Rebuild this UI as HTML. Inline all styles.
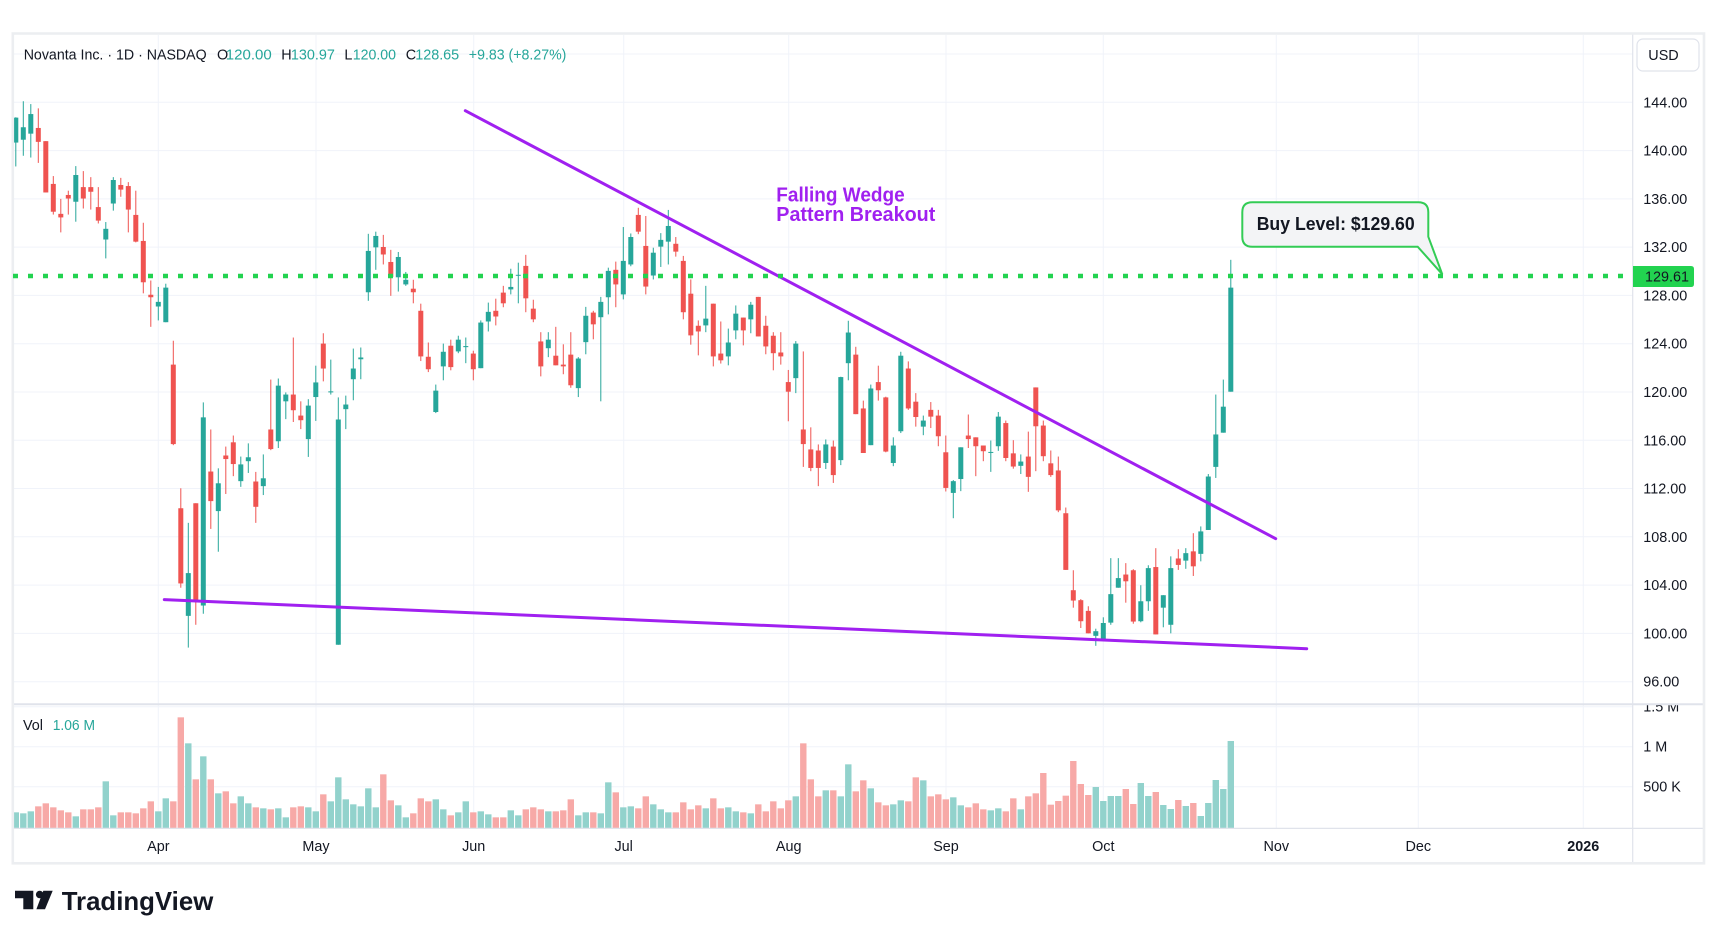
<!DOCTYPE html>
<html>
<head>
<meta charset="utf-8">
<style>
html,body{margin:0;padding:0;background:#ffffff;}
body{width:1717px;height:938px;overflow:hidden;}
svg{display:block;font-family:"Liberation Sans",Arial,sans-serif;}
.ax{font-size:14.4px;fill:#131722;}
.tx{font-size:14.4px;fill:#131722;}
.up{fill:#26a69a;}
</style>
</head>
<body>
<svg id="s" width="1717" height="938" viewBox="0 0 1717 938" xmlns="http://www.w3.org/2000/svg">
  <defs>
    <clipPath id="cp"><rect x="14" y="35" width="1618.7" height="669.3"/></clipPath>
    <clipPath id="cv"><rect x="14" y="705.3" width="1618.7" height="123"/></clipPath>
    <clipPath id="cva"><rect x="1633.7" y="705.3" width="68" height="123"/></clipPath>
  </defs>
  <rect x="0" y="0" width="1717" height="938" fill="#ffffff"/>

  <!-- grid -->
  <g stroke="#f0f3fa" stroke-width="1">
    <line x1="14" y1="54.0" x2="1632.7" y2="54.0"/>
    <line x1="14" y1="102.3" x2="1632.7" y2="102.3"/>
    <line x1="14" y1="150.6" x2="1632.7" y2="150.6"/>
    <line x1="14" y1="198.9" x2="1632.7" y2="198.9"/>
    <line x1="14" y1="247.1" x2="1632.7" y2="247.1"/>
    <line x1="14" y1="295.4" x2="1632.7" y2="295.4"/>
    <line x1="14" y1="343.7" x2="1632.7" y2="343.7"/>
    <line x1="14" y1="392.0" x2="1632.7" y2="392.0"/>
    <line x1="14" y1="440.3" x2="1632.7" y2="440.3"/>
    <line x1="14" y1="488.5" x2="1632.7" y2="488.5"/>
    <line x1="14" y1="536.8" x2="1632.7" y2="536.8"/>
    <line x1="14" y1="585.1" x2="1632.7" y2="585.1"/>
    <line x1="14" y1="633.4" x2="1632.7" y2="633.4"/>
    <line x1="14" y1="681.7" x2="1632.7" y2="681.7"/>
    <line x1="14" y1="706.7" x2="1632.7" y2="706.7"/>
    <line x1="14" y1="746.7" x2="1632.7" y2="746.7"/>
    <line x1="14" y1="786.7" x2="1632.7" y2="786.7"/>
    <line x1="158.3" y1="35" x2="158.3" y2="828"/>
    <line x1="316" y1="35" x2="316" y2="828"/>
    <line x1="473.7" y1="35" x2="473.7" y2="828"/>
    <line x1="623.7" y1="35" x2="623.7" y2="828"/>
    <line x1="788.7" y1="35" x2="788.7" y2="828"/>
    <line x1="946" y1="35" x2="946" y2="828"/>
    <line x1="1103.3" y1="35" x2="1103.3" y2="828"/>
    <line x1="1276.3" y1="35" x2="1276.3" y2="828"/>
    <line x1="1418.3" y1="35" x2="1418.3" y2="828"/>
    <line x1="1583.3" y1="35" x2="1583.3" y2="828"/>
  </g>

  <!-- series -->
  <g id="candles" clip-path="url(#cp)"></g>
  <g id="vols" clip-path="url(#cv)"></g>

  <!-- separators -->
  <line x1="13" y1="704.3" x2="1703" y2="704.3" stroke="#e0e3eb" stroke-width="2"/>
  <line x1="13" y1="828.4" x2="1703" y2="828.4" stroke="#e0e3eb" stroke-width="1.2"/>
  <line x1="1632.7" y1="34" x2="1632.7" y2="863" stroke="#e0e3eb" stroke-width="1.2"/>

  <!-- frame -->
  <rect x="12.8" y="33.5" width="1691.2" height="829.8" fill="none" stroke="#eceef1" stroke-width="2.6"/>

  <!-- wedge lines -->
  <g stroke="#a020f0" stroke-width="3" stroke-linecap="round" clip-path="url(#cp)">
    <line x1="465.3" y1="110.7" x2="1275.7" y2="538.7"/>
    <line x1="164.3" y1="599.6" x2="1306.7" y2="648.7"/>
  </g>

  <!-- wedge text -->
  <text x="776.3" y="201.4" font-size="20" font-weight="bold" fill="#a020f0" textLength="128.4" lengthAdjust="spacingAndGlyphs">Falling Wedge</text>
  <text x="776.3" y="221" font-size="20" font-weight="bold" fill="#a020f0" textLength="159" lengthAdjust="spacingAndGlyphs">Pattern Breakout</text>

  <!-- buy level dotted line -->
  <line x1="13" y1="276" x2="1632.7" y2="276" stroke="#22d350" stroke-width="4.6" stroke-dasharray="5 10"/>

  <!-- callout -->
  <path d="M1252.3,202.3 H1418.3 Q1428.3,202.3 1428.3,212.3 V236.7 L1442.3,274.3 L1417.7,246.7 H1252.3 Q1242.3,246.7 1242.3,236.7 V212.3 Q1242.3,202.3 1252.3,202.3 Z" fill="#f3f4f6" stroke="#33cc55" stroke-width="2"/>
  <text x="1256.7" y="230" font-size="18" font-weight="bold" fill="#131722" textLength="158" lengthAdjust="spacingAndGlyphs">Buy Level: $129.60</text>

  <!-- header -->
  <text class="tx" x="23.7" y="59.3" textLength="183" lengthAdjust="spacingAndGlyphs">Novanta Inc. · 1D · NASDAQ</text>
  <text class="tx" x="217" y="59.3">O</text>
  <text class="tx up" x="225.8" y="59.3" textLength="45.9" lengthAdjust="spacingAndGlyphs">120.00</text>
  <text class="tx" x="281.3" y="59.3">H</text>
  <text class="tx up" x="290.9" y="59.3" textLength="44" lengthAdjust="spacingAndGlyphs">130.97</text>
  <text class="tx" x="344.4" y="59.3">L</text>
  <text class="tx up" x="352.8" y="59.3" textLength="43.2" lengthAdjust="spacingAndGlyphs">120.00</text>
  <text class="tx" x="405.7" y="59.3">C</text>
  <text class="tx up" x="415.2" y="59.3" textLength="44" lengthAdjust="spacingAndGlyphs">128.65</text>
  <text class="tx up" x="468.8" y="59.3" textLength="97.6" lengthAdjust="spacingAndGlyphs">+9.83 (+8.27%)</text>

  <!-- vol legend -->
  <text class="tx" x="23" y="730">Vol</text>
  <text class="tx up" x="52.7" y="730" textLength="42.3" lengthAdjust="spacingAndGlyphs">1.06 M</text>

  <!-- price axis -->
  <rect x="1637" y="39" width="62" height="32" rx="6" ry="6" fill="#ffffff" stroke="#e0e3eb" stroke-width="1.2"/>
  <text class="ax" x="1648.3" y="60.2">USD</text>
  <g class="ax">
    <text x="1643.3" y="107.3">144.00</text>
    <text x="1643.3" y="155.6">140.00</text>
    <text x="1643.3" y="203.9">136.00</text>
    <text x="1643.3" y="252.1">132.00</text>
    <text x="1643.3" y="300.4">128.00</text>
    <text x="1643.3" y="348.7">124.00</text>
    <text x="1643.3" y="397.0">120.00</text>
    <text x="1643.3" y="445.3">116.00</text>
    <text x="1643.3" y="493.5">112.00</text>
    <text x="1643.3" y="541.8">108.00</text>
    <text x="1643.3" y="590.1">104.00</text>
    <text x="1643.3" y="638.4">100.00</text>
    <text x="1643.3" y="686.7">96.00</text>
  </g>
  <path d="M1633,266 H1691 Q1694,266 1694,269 V284 Q1694,287 1691,287 H1633 Z" fill="#22d350"/>
  <text class="ax" x="1645" y="281.3">129.61</text>

  <!-- volume axis -->
  <g class="ax" clip-path="url(#cva)">
    <text x="1643.3" y="711.7">1.5 M</text>
    <text x="1643.3" y="751.7">1 M</text>
    <text x="1643.3" y="791.7">500 K</text>
  </g>

  <!-- time axis -->
  <g class="ax" text-anchor="middle">
    <text x="158.3" y="851">Apr</text>
    <text x="316" y="851">May</text>
    <text x="473.7" y="851">Jun</text>
    <text x="623.7" y="851">Jul</text>
    <text x="788.7" y="851">Aug</text>
    <text x="946" y="851">Sep</text>
    <text x="1103.3" y="851">Oct</text>
    <text x="1276.3" y="851">Nov</text>
    <text x="1418.3" y="851">Dec</text>
    <text x="1583.3" y="851" font-weight="bold">2026</text>
  </g>

  <!-- TradingView logo -->
  <g fill="#131722">
    <path d="M15,890.7 H33.3 V909.3 H23.3 V898.3 H15 Z"/>
    <circle cx="39.7" cy="894.5" r="3.8"/>
    <path d="M43.3,890.7 H52.7 L45,909.3 H36.4 Z"/>
  </g>
  <text x="61.7" y="910" font-size="26" font-weight="bold" fill="#131722" textLength="151.6" lengthAdjust="spacingAndGlyphs">TradingView</text>
</svg>

<script>
(function(){
  var NS = "http://www.w3.org/2000/svg";
  var C = [
"G,63,133,62,200","G,90,125,17,170","G,53,108,25,175","R,92,131,37,190","R,129,273,129,273",
"R,249,327,227,335","R,333,343,291,385","R,280,290,268,335","G,224,299,199,355","R,258,290,213,318",
"R,258,271,230,321","R,314,352,258,360","G,375,405,356,458","G,238,304,230,324","R,252,265,232,285",
"R,255,321,244,385","R,336,411,268,413","R,409,525,358,556","R,560,567,520,650",
"G,580,593,538,632","G,540,637,529,637","R,756,979,689,982","R,1159,1370,1103,1382","G,1341,1461,1200,1550",
"R,1145,1420,1145,1486","G,904,1432,862,1455","R,1056,1139,938,1217","G,1089,1167,1047,1281","R,1011,1021,986,1119",
"R,974,1035,955,1069","G,1036,1083,1014,1099","G,1016,1027,977,1060","R,1084,1155,1057,1200","G,1075,1097,1008,1122",
"R,938,993,798,996","G,815,971,795,990","G,840,859,834,909","R,840,884,680,917","R,899,912,859,937",
"G,871,965,853,1015","G,806,847,759,914","R,697,767,668,803","G,831,834,742,840","G,910,1542,848,1542",
"G,868,881,843,937","G,767,797,711,856","G,736,741,708,797","G,437,553,389,577","G,395,427,383,490",
"R,426,447,392,475","R,468,510,434,563","G,454,511,440,551","G,518,531,496,535","R,543,553,518,584",
"R,605,733,585,746","R,734,769,694,777","G,829,889,812,892","G,720,761,697,800","R,703,763,686,772",
"G,686,719,675,724","G,704,707,680,752","R,725,769,717,800","G,638,766,632,766","G,608,635,582,663",
"R,605,621,571,646","R,554,584,535,595","G,538,545,487,559","G,504,506,470,584","R,479,570,448,609",
"R,599,629,574,637","R,691,761,665,789","G,686,710,665,735","R,731,758,650,758","R,756,761,699,783",
"R,728,814,665,821","G,739,822,735,847","G,619,693,594,727","R,610,643,605,685","G,580,623,566,859",
"G,493,567,484,615","R,490,531,467,595","G,465,559,370,573","G,398,475,388,480","R,336,383,316,390",
"R,423,537,339,559","G,442,506,428,517","G,406,425,387,482","G,367,411,322,475","R,417,439,398,453",
"R,465,609,451,629","R,557,674,517,700","R,647,663,632,730","G,627,646,535,665","R,585,733,585,761",
"R,725,744,635,753","G,694,733,655,758","G,613,660,590,685","R,624,660,624,702","G,588,629,580,668",
"R,566,677,566,677","R,647,705,619,727","R,675,724,665,772","R,722,733,665,756","R,805,832,771,915",
"G,697,794,690,836","R,938,979,719,1043","R,994,1046,932,1055","R,997,1046,980,1097","G,980,1032,966,1049",
"R,986,1066,969,1088","G,791,1024,790,1038","G,666,752,633,800","R,728,895,706,895","R,879,1004,857,1004",
"G,823,982,812,982","R,805,828,759,857","R,848,1000,846,1002","G,983,1032,960,1041","G,731,943,720,948",
"R,767,879,747,883","R,860,903,836,930","G,913,930,899,954","R,883,902,861,934","R,899,957,883,985",
"R,1002,1102,955,1112","G,1083,1116,1080,1187","G,988,1077,988,1111","R,955,965,896,990","R,960,985,960,1069",
"R,983,999,983,1027","G,1001,1003,969,1057","G,902,985,889,998","R,920,1018,913,1027","R,1005,1042,968,1048",
"G,1028,1040,1008,1063","R,1014,1071,944,1113","R,820,929,820,1055","R,927,1013,913,1027","R,1033,1066,997,1071",
"R,1053,1165,1014,1170","R,1173,1332,1157,1332","R,1389,1418,1333,1438","R,1417,1476,1414,1495","R,1447,1510,1434,1510",
"G,1504,1517,1497,1545","G,1481,1530,1465,1530","G,1400,1480,1299,1486","G,1355,1382,1299,1382","R,1345,1364,1313,1424",
"R,1333,1477,1330,1483","G,1420,1476,1375,1479","G,1327,1420,1319,1447","R,1324,1513,1271,1513","G,1403,1438,1403,1493",
"G,1327,1486,1294,1510","R,1300,1318,1274,1332","G,1285,1306,1271,1329","R,1280,1322,1229,1349","G,1224,1287,1210,1308",
"G,1070,1220,1063,1220","G,952,1043,840,1074","G,874,947,798,947","G,540,832,462,832"
  ];
  // volume in zoom units with their baselines
  var V1 = [396,399,393,378,369,381,390,396,408,387,387,381,303,405,396,396,399,384,363,393,354,363,111,189,297,228,297,339,333,369,348,369,381,384,387,384,411,381,378,381,393,342,363,291,357,372,378,324,381,282,360,375,411,399,354,363,357,387,405,396,363,396,393,402,411,411,390,405];
  var V2 = [327,321,327,333,333,330,297,345,336,336,339,246,276,321,318,324,288,312,327,336,336,306,327,315,324,294,324,321,333,336,339,312,333,303,324,300,288,129,237,288,270,270,288,192,273,240,264,306,315,312,300,303,231,240,288,282,297,291,315,321,309,327,330,324,333,294,327,288,279];
  var V3 = [399,494,483,467,363,432,465,441,483,468,468,447,492,429,468,456,495,507,480,498,489,528,489,420,447,303];
  var vh = [];
  V1.forEach(function(y){vh.push((443-y)/3);});
  V2.forEach(function(y){vh.push((383-y)/3);});
  V3.forEach(function(y){vh.push((564-y)/3);});

  function Y(v){ return 102.3 + (v-20)*0.3564; }
  var gc = document.getElementById("candles");
  var gv = document.getElementById("vols");
  function rect(g,x,y,w,h,fill){
    var r = document.createElementNS(NS,"rect");
    r.setAttribute("x",x.toFixed(2)); r.setAttribute("y",y.toFixed(2));
    r.setAttribute("width",w.toFixed(2)); r.setAttribute("height",Math.max(h,1).toFixed(2));
    r.setAttribute("fill",fill); g.appendChild(r);
  }
  for (var k=0;k<C.length;k++){
    var p = C[k].split(",");
    var i = k-19;
    var x = 158.3 + 7.5*i;
    var up = p[0]==="G";
    var col = up ? "#26a69a" : "#ef5350";
    var bt = Y(+p[1]), bb = Y(+p[2]), wt = Y(+p[3]), wb = Y(+p[4]);
    rect(gc, x-0.5, wt, 1, wb-wt, col);
    rect(gc, x-2.5, bt, 5, bb-bt, col);
    if (k < vh.length){
      var h = vh[k];
      rect(gv, x-3.2, 828-h, 6.4, h, up ? "#92d2cc" : "#f7a9a7");
    }
  }
})();
</script>
</body>
</html>
